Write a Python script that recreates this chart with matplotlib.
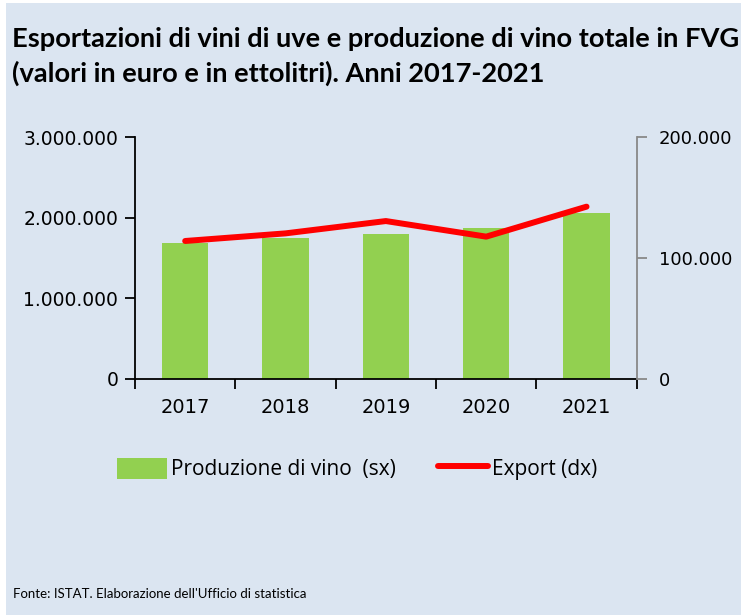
import matplotlib.pyplot as plt
from matplotlib.patches import Patch, Rectangle
from matplotlib.lines import Line2D
from matplotlib.ticker import FuncFormatter

# dati
anni = ["2017", "2018", "2019", "2020", "2021"]
produzione = [1683000, 1753000, 1795000, 1877000, 2063000]  # ettolitri (sx)
export = [114200, 120500, 130700, 117800, 142600]  # euro (dx)

sfondo = "#dbe5f1"
verde = "#92d050"
rosso = "#ff0000"

title_font = ["Lato", "DejaVu Sans"]
legend_font = ["Open Sans", "DejaVu Sans"]


def fmt_it(v, pos=None):
    return f"{int(v):,}".replace(",", ".")


fig = plt.figure(figsize=(7.41, 6.15), dpi=100)
fig.patch.set_facecolor("white")
fig.patches.append(Rectangle((6 / 741, 0), 1, 1 - 3 / 615, transform=fig.transFigure,
                             facecolor=sfondo, edgecolor="none", zorder=-10))

ax = fig.add_axes([135 / 741, 1 - 379 / 615, (636.7 - 135) / 741, (379 - 137.3) / 615])
ax.set_facecolor("none")
x = list(range(len(anni)))
ax.bar(x, produzione, width=0.46, color=verde, zorder=2)
ax.set_xlim(-0.5, len(anni) - 0.5)
ax.set_ylim(0, 3000000)
ax.set_yticks([0, 1000000, 2000000, 3000000])
ax.yaxis.set_major_formatter(FuncFormatter(fmt_it))

ax.set_xticks([i - 0.5 for i in range(len(anni) + 1)])
ax.set_xticklabels([])
ax.set_xticks(x, minor=True)
ax.set_xticklabels(anni, minor=True)
ax.tick_params(axis="x", which="minor", length=0, pad=14, labelsize=14)
ax.tick_params(axis="x", which="major", length=7, width=1.3, direction="out")
ax.tick_params(axis="y", length=7, width=1.3, labelsize=13.5, pad=5)

for s in ["top", "right"]:
    ax.spines[s].set_visible(False)
ax.spines["left"].set_linewidth(1.3)
ax.spines["bottom"].set_linewidth(1.3)
ax.spines["bottom"].set_zorder(4)

ax2 = ax.twinx()
ax2.plot(x, export, color=rosso, linewidth=4.3, solid_capstyle="round", zorder=3)
ax2.set_ylim(0, 200000)
ax2.set_yticks([0, 100000, 200000])
ax2.yaxis.set_major_formatter(FuncFormatter(fmt_it))
ax2.tick_params(axis="y", length=7, width=1.3, color="#888888", labelsize=13, pad=9)
for s in ["top", "left", "bottom"]:
    ax2.spines[s].set_visible(False)
ax2.spines["right"].set_color("#888888")
ax2.spines["right"].set_linewidth(1.3)

# titolo
fig.text(12 / 741, 1 - 47 / 615, "Esportazioni di vini di uve e produzione di vino totale in FVG",
         family=title_font, fontweight="bold", fontsize=19.6, va="baseline", ha="left")
fig.text(12 / 741, 1 - 82 / 615, "(valori in euro e in ettolitri). Anni 2017-2021",
         family=title_font, fontweight="bold", fontsize=19.6, va="baseline", ha="left")

# legenda
handles = [Patch(facecolor=verde, edgecolor="none"),
           Line2D([0], [0], color=rosso, linewidth=4.3, solid_capstyle="round")]
fig.legend(handles, ["Produzione di vino  (sx)", "Export (dx)"],
           loc="center", bbox_to_anchor=(357 / 741, 1 - 469 / 615), ncol=2, frameon=False,
           prop={"family": legend_font, "size": 15}, handlelength=2.4, handleheight=1.2,
           handletextpad=0.2, columnspacing=2.0)

fig.text(13 / 741, 1 - 598 / 615, "Fonte: ISTAT. Elaborazione dell'Ufficio di statistica",
         family=title_font, fontsize=9.5, va="baseline", ha="left")

fig.savefig("out.png", dpi=100, facecolor=fig.get_facecolor())
